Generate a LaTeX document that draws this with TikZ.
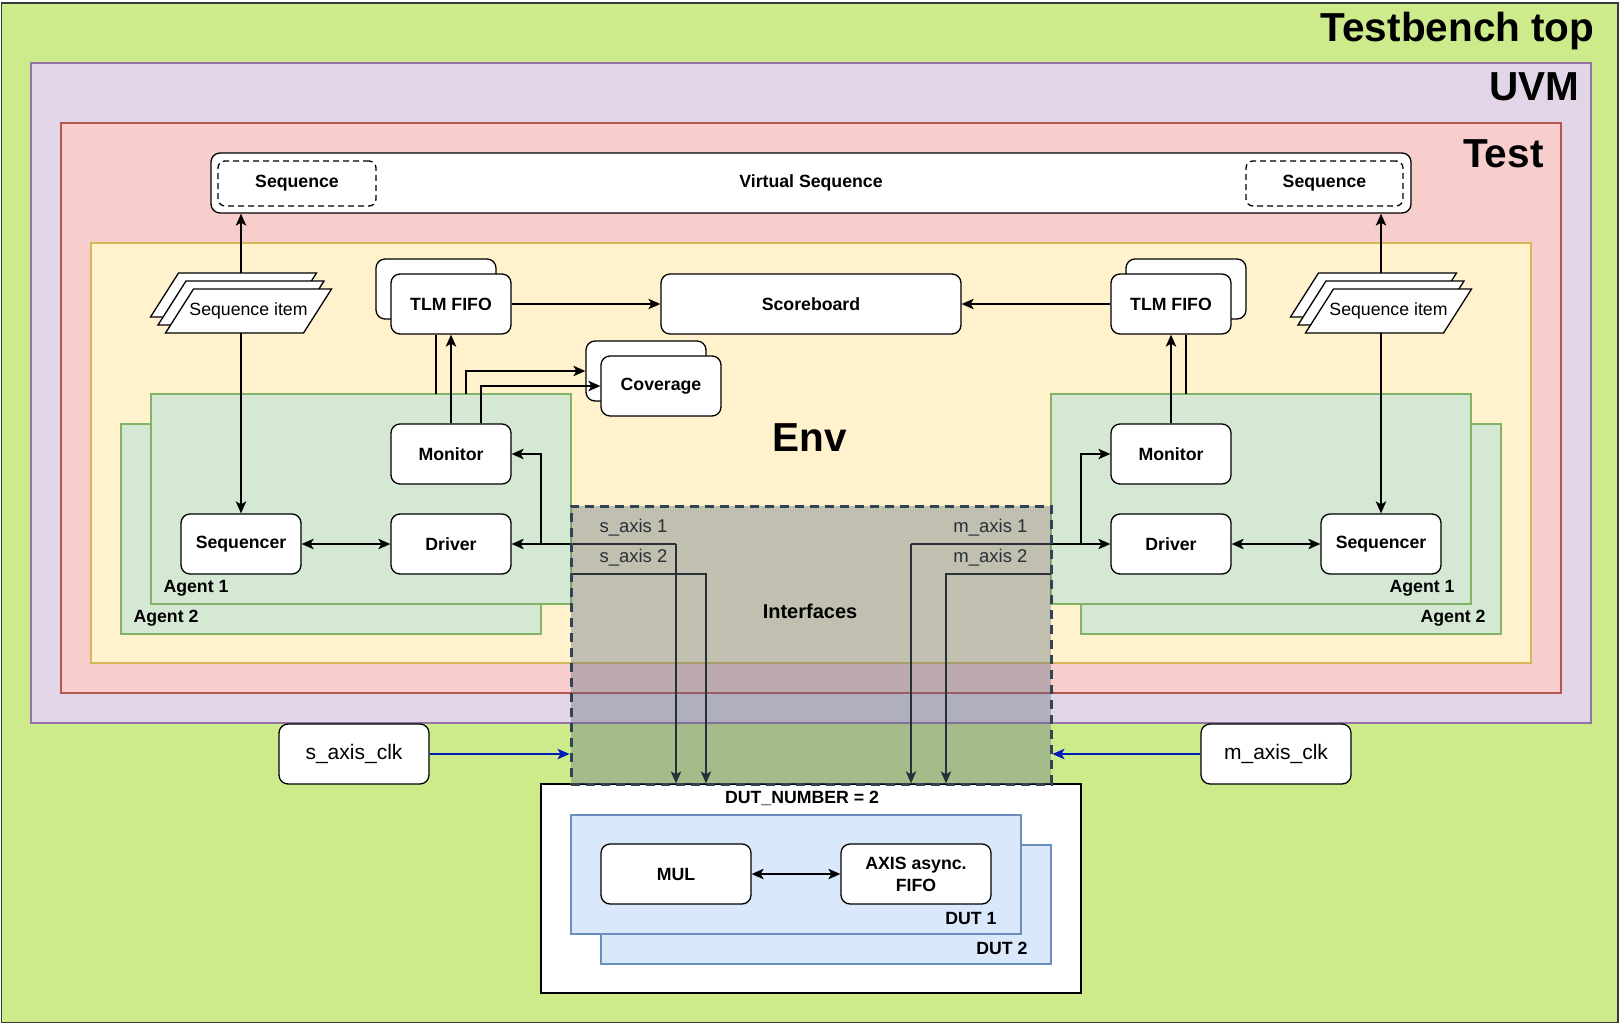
\documentclass[tikz,border=0pt]{standalone}
\usepackage{fontspec}
\setmainfont{Liberation Sans}
\usetikzlibrary{arrows.meta, calc, positioning}

\definecolor{tbfill}{HTML}{CDEB8B}
\definecolor{tbline}{HTML}{36393D}
\definecolor{uvmfill}{HTML}{E1D5E7}
\definecolor{uvmline}{HTML}{9673A6}
\definecolor{testfill}{HTML}{F8CECC}
\definecolor{testline}{HTML}{B85450}
\definecolor{envfill}{HTML}{FFF2CC}
\definecolor{envline}{HTML}{D6B656}
\definecolor{agentfill}{HTML}{D5E8D4}
\definecolor{agentline}{HTML}{82B366}
\definecolor{dutfill}{HTML}{DAE8FC}
\definecolor{dutline}{HTML}{6C8EBF}
\definecolor{iffill}{HTML}{647687}
\definecolor{ifline}{HTML}{314354}
\definecolor{clkblue}{HTML}{001DBC}

\newcommand{\bigfont}{\bfseries\fontsize{40.5}{44}\selectfont}
\newcommand{\boxfont}{\bfseries\fontsize{17.7}{22}\selectfont}
\newcommand{\plainfont}{\fontsize{17.7}{22}\selectfont}
\newcommand{\clkfont}{\fontsize{21}{24}\selectfont}

\tikzset{
	frame/.style={line width=1.3pt},
	agent/.style={frame, draw=agentline, fill=agentfill},
	dut/.style={frame, draw=dutline, fill=dutfill},
	block/.style={draw, fill=white, rounded corners=9pt, line width=1.3pt, minimum width=120pt, minimum height=60pt, inner sep=0pt, align=center, font=\boxfont},
	seqbox/.style={draw, dash pattern=on 6pt off 4pt, rounded corners=7pt, line width=1.3pt, minimum width=158pt, minimum height=45pt, inner sep=0pt, font=\boxfont},
	itemshape/.style={draw, fill=white, line width=1.3pt},
	axislabel/.style={font=\fontsize{18.5}{22}\selectfont},
	arr/.style={line width=1.3pt, -{Stealth[length=12pt,width=10.5pt,inset=3pt]}},
	dblarr/.style={line width=1.3pt, {Stealth[length=12pt,width=10.5pt,inset=3pt]}-{Stealth[length=12pt,width=10.5pt,inset=3pt]}},
	clkarr/.style={line width=1.3pt, draw=clkblue, -{Stealth[length=12pt,width=10.5pt,inset=3pt]}},
}

\newcommand{\seqitem}[3]{%
	\foreach \dx/\dy in {15/16,7.5/8,0/0}
		\draw[itemshape, shift={({#2-\dx},{#3-\dy})}] (-55,-22) -- (83,-22) -- (55,22) -- (-83,22) -- cycle;
	\node[font=\plainfont] (#1) at (#2,#3) {Sequence item};
}

\begin{document}
\begin{tikzpicture}[x=1pt,y=-1pt]
	\useasboundingbox (0,0) rectangle (1622,1025);

	\draw[frame, draw=tbline, fill=tbfill] (1.5,3) rectangle (1618,1022.5);
	\node[font=\bigfont, anchor=base east] (tblabel) at (1598,42) {Testbench top};
	\draw[frame, draw=uvmline, fill=uvmfill] (31,63) rectangle (1591,723);
	\node[font=\bigfont, anchor=base east] (uvmlabel) at (1583,100) {UVM};
	\draw[frame, draw=testline, fill=testfill] (61,123) rectangle (1561,693);
	\node[font=\bigfont, anchor=base east] (testlabel) at (1547,167) {Test};

	\node[block, minimum width=1200pt] (vs) at (811,183) {Virtual Sequence};
	\node[seqbox] (seqL) at (297,183.5) {Sequence};
	\node[seqbox, minimum width=157pt] (seqR) at (1324.5,183.5) {Sequence};

	\draw[frame, draw=envline, fill=envfill] (91,243) rectangle (1531,663);
	\node[font=\bigfont] (envlabel) at (810,438) {Env};

	\draw[agent] (121,424) rectangle (541,634);
	\draw[agent] (151,394) rectangle (571,604);
	\node[font=\boxfont, anchor=west] (agL1) at (160,588) {Agent 1};
	\node[font=\boxfont, anchor=west] (agL2) at (130,618) {Agent 2};
	\draw[agent] (1081,424) rectangle (1501,634);
	\draw[agent] (1051,394) rectangle (1471,604);
	\node[font=\boxfont, anchor=east] (agR1) at (1458,588) {Agent 1};
	\node[font=\boxfont, anchor=east] (agR2) at (1489,618) {Agent 2};

	\seqitem{itemL}{248.5}{311}
	\seqitem{itemR}{1388.5}{311}
	\coordinate (itemLtop) at (241,273);
	\coordinate (itemLbot) at (241,333);
	\coordinate (itemRtop) at (1381,273);
	\coordinate (itemRbot) at (1381,333);

	\node[block] (tlmLb) at (436,289) {};
	\node[block] (tlmL) at (451,304) {TLM FIFO};
	\node[block, minimum width=300pt] (score) at (811,304) {Scoreboard};
	\node[block] (tlmRb) at (1186,289) {};
	\node[block] (tlmR) at (1171,304) {TLM FIFO};
	\node[block] (covb) at (646,371) {};
	\node[block] (cov) at (661,386) {Coverage};

	\node[block] (monL) at (451,454) {Monitor};
	\node[block] (drvL) at (451,544) {Driver};
	\node[block] (seqrL) at (241,544) {Sequencer};
	\node[block] (monR) at (1171,454) {Monitor};
	\node[block] (drvR) at (1171,544) {Driver};
	\node[block] (seqrR) at (1381,544) {Sequencer};

	\node[draw, fill=white, line width=1.3pt, minimum width=540pt, minimum height=209pt, inner sep=0pt] (dutbox) at (811,888.5) {};
	\node[font=\boxfont] (dutnum) at (802,798) {DUT\_NUMBER = 2};
	\draw[dut] (601,845) rectangle (1051,964);
	\draw[dut] (571,815) rectangle (1021,934);
	\node[font=\boxfont, anchor=east] (dut1) at (1000,918) {DUT 1};
	\node[font=\boxfont, anchor=east] (dut2) at (1031,948) {DUT 2};
	\node[block, minimum width=150pt] (mul) at (676,874) {MUL};
	\node[block, minimum width=150pt] (axfifo) at (916,874) {AXIS async.\\FIFO};
	\draw[dblarr] (mul) -- (axfifo);

	\node[block, font=\clkfont, minimum width=150pt] (saxclk) at (354,754) {s\_axis\_clk};
	\node[block, font=\clkfont, minimum width=150pt] (maxclk) at (1276,754) {m\_axis\_clk};

	\draw[arr] (itemLtop) -- (itemLtop |- vs.south);
	\draw[arr] (itemLbot) -- (seqrL.north);
	\draw[arr] (itemRtop) -- (itemRtop |- vs.south);
	\draw[arr] (itemRbot) -- (seqrR.north);

	\draw[arr] (monL) -- (tlmL);
	\coordinate (ag2tlmL) at (436,394);
	\draw[line width=1.3pt] (ag2tlmL) -- (ag2tlmL |- tlmL.south);
	\coordinate (ag2covL) at (466,394);
	\draw[arr] (ag2covL) |- (covb.west);
	\draw[arr] ([xshift=30pt]monL.north) |- (cov.west);
	\draw[arr] (tlmL) -- (score);
	\draw[dblarr] (seqrL) -- (drvL);

	\draw[arr] (monR) -- (tlmR);
	\coordinate (ag2tlmR) at (1186,394);
	\draw[line width=1.3pt] (ag2tlmR) -- (ag2tlmR |- tlmR.south);
	\draw[arr] (tlmR) -- (score);
	\draw[dblarr] (drvR) -- (seqrR);

	\node[axislabel, anchor=west] (sax1) at (596,528) {s\_axis 1};
	\node[axislabel, anchor=west] (sax2) at (596,558) {s\_axis 2};
	\node[axislabel, anchor=east] (max1) at (1031,528) {m\_axis 1};
	\node[axislabel, anchor=east] (max2) at (1031,558) {m\_axis 2};

	\coordinate (sax1bend) at (676,544);
	\draw[arr] (sax1bend) -- (drvL.east);
	\draw[arr] (sax1bend) -- (sax1bend |- dutbox.north);
	\coordinate (tapL) at (541,544);
	\draw[arr] (tapL) |- (monL.east);
	\coordinate (sax2in) at (571,574);
	\coordinate (sax2bend) at (706,574);
	\draw[arr] (sax2in) -- (sax2bend) -- (sax2bend |- dutbox.north);

	\coordinate (max1bend) at (911,544);
	\draw[arr] (max1bend) -- (drvR.west);
	\draw[arr] (max1bend) -- (max1bend |- dutbox.north);
	\coordinate (tapR) at (1081,544);
	\draw[arr] (tapR) |- (monR.west);
	\coordinate (max2in) at (1051,574);
	\coordinate (max2bend) at (946,574);
	\draw[arr] (max2in) -- (max2bend) -- (max2bend |- dutbox.north);

	\node[draw=ifline, dash pattern=on 9pt off 6pt, line width=3pt, fill=iffill, fill opacity=0.4, draw opacity=1, minimum width=480pt, minimum height=278pt, inner sep=0pt] (iface) at (811,645) {};
	\node[font=\bfseries\fontsize{20}{24}\selectfont] (iftext) at (810,611) {Interfaces};

	\draw[clkarr] (saxclk.east) -- (saxclk.east -| iface.west);
	\draw[clkarr] (maxclk.west) -- (maxclk.west -| iface.east);
\end{tikzpicture}
\end{document}
